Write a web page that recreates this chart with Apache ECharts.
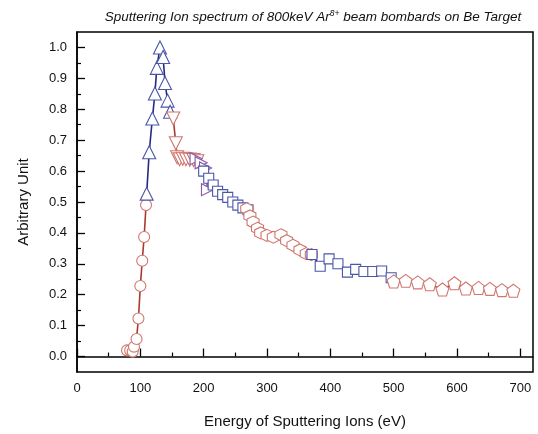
<!DOCTYPE html>
<html>
<head>
<meta charset="utf-8">
<script src="https://cdn.jsdelivr.net/npm/echarts@6/dist/echarts.min.js"></script>
<style>html,body{margin:0;padding:0;background:#fff;}#c{width:538px;height:434px;}</style>
</head>
<body>
<div id="c"></div>
<script>
// Data: [energy (eV), arbitrary unit]
var redCircles = [[79,0.02],[84,0.02],[88,0.016],[90,0.032],[94,0.057],[97,0.123],[100,0.228],[103,0.31],[106,0.387],[109,0.49]];
var blueTriangles = [[110,0.527],[114,0.661],[119,0.77],[123,0.851],[126,0.934],[131,1.0],[136,0.969],[139,0.885],[143,0.828],[147,0.792]];
var redDownTriangles = [[152,0.77],[156,0.69],[158,0.645],[162,0.638],[167,0.64],[172,0.638],[178,0.637],[184,0.636],[190,0.632]];
var purpleTriangles = [[188,0.64],[196,0.627],[203,0.61],[206,0.54]];
var blueSquares1 = [[200,0.60],[208,0.577],[215,0.555],[222,0.535],[230,0.524],[238,0.515],[246,0.50],[254,0.49],[262,0.481],[270,0.475]];
var redHexagons = [[268,0.478],[273,0.455],[278,0.435],[285,0.415],[290,0.40],[300,0.392],[310,0.386],[322,0.394],[331,0.375],[341,0.36],[352,0.345],[362,0.333],[370,0.33]];
var blueSquares2 = [[371,0.33],[384,0.292],[398,0.316],[412,0.30],[427,0.273],[440,0.282],[453,0.275],[467,0.275],[481,0.277],[496,0.255]];
var redPentagons = [[500,0.243],[519,0.245],[538,0.24],[557,0.234],[577,0.217],[596,0.237],[614,0.22],[634,0.222],[652,0.219],[671,0.215],[689,0.213]];

var xMajor = [0,100,200,300,400,500,600,700];
var xMinor = [50,150,250,350,450,550,650];
var yMajor = [0,0.1,0.2,0.3,0.4,0.5,0.6,0.7,0.8,0.9,1.0];
var yMinor = [0.05,0.15,0.25,0.35,0.45,0.55,0.65,0.75,0.85,0.95];

var PENT = 'path://M0,-10 L9.51,-3.09 L5.88,8.09 L-5.88,8.09 L-9.51,-3.09 Z';
var HEX = 'path://M0,-10 L8.66,-5 L8.66,5 L0,10 L-8.66,5 L-8.66,-5 Z';

var RED_LINE = '#a83a32', RED_MK = '#d0766e';
var BLUE_LINE = '#232a80', BLUE_MK = '#4a56a8';
var PURPLE = '#8a55a8';

function mk(data, symbol, size, lineColor, mkColor, rot) {
  return {
    type: 'line', data: data, symbol: symbol, symbolSize: size, symbolRotate: rot || 0,
    showAllSymbol: true, xAxisIndex: 0, yAxisIndex: 0,
    lineStyle: {color: lineColor, width: 1.6},
    itemStyle: {color: '#fff', borderColor: mkColor, borderWidth: 1.1},
    emphasis: {disabled: true}, animation: false
  };
}

var fontFam = 'Liberation Sans, Arial, sans-serif';
var chart = echarts.init(document.getElementById('c'));
chart.setOption({
  animation: false,
  title: {
    text: '{t|Sputtering Ion spectrum of 800keV Ar}{s|8+}{t| beam bombards on Be Target}',
    left: 308, top: 4, textAlign: 'center',
    textStyle: {
      fontWeight: 'normal',
      rich: {
        t: {fontSize: 13.5, fontStyle: 'italic', fontWeight: 'normal', fontFamily: fontFam, color: '#111'},
        s: {fontSize: 8.5, fontStyle: 'italic', fontWeight: 'normal', fontFamily: fontFam, color: '#111', verticalAlign: 'top', padding: [0,0,8,0]}
      }
    }
  },
  grid: {left: 77, right: 5, top: 32, bottom: 62, show: true, borderColor: '#000', borderWidth: 1.5, backgroundColor: 'transparent'},
  xAxis: [{
    type: 'value', min: 0, max: 720,
    name: 'Energy of Sputtering Ions (eV)', nameLocation: 'middle', nameGap: 42,
    nameTextStyle: {fontSize: 15, fontFamily: fontFam, color: '#111'},
    axisLine: {lineStyle: {color: '#000', width: 1.5}},
    axisTick: {inside: true, length: 8, customValues: xMajor, lineStyle: {color: '#000', width: 1.3}},
    axisLabel: {customValues: xMajor, margin: 10, fontSize: 13, fontFamily: fontFam, color: '#111'},
    splitLine: {show: false}
  }, {
    type: 'value', min: 0, max: 720, position: 'bottom',
    axisLine: {show: false},
    axisTick: {inside: true, length: 4, customValues: xMinor, lineStyle: {color: '#000', width: 1.2}},
    axisLabel: {show: false}, splitLine: {show: false}
  }],
  yAxis: [{
    type: 'value', min: -0.05, max: 1.05,
    name: 'Arbitrary Unit', nameLocation: 'middle', nameGap: 46,
    nameTextStyle: {fontSize: 15, fontFamily: fontFam, color: '#111'},
    axisLine: {lineStyle: {color: '#000', width: 1.5}},
    axisTick: {inside: true, length: 8, customValues: yMajor, lineStyle: {color: '#000', width: 1.3}},
    axisLabel: {customValues: yMajor, margin: 10, fontSize: 13, fontFamily: fontFam, color: '#111',
      formatter: function (v) { return v.toFixed(1); }},
    splitLine: {show: false}
  }, {
    type: 'value', min: -0.05, max: 1.05, position: 'left',
    axisLine: {show: false},
    axisTick: {inside: true, length: 4, customValues: yMinor, lineStyle: {color: '#000', width: 1.2}},
    axisLabel: {show: false}, splitLine: {show: false}
  }],
  series: [
    mk(redCircles, 'circle', 11, RED_LINE, RED_MK),
    mk(blueTriangles, 'triangle', 13, BLUE_LINE, BLUE_MK),
    mk(redDownTriangles, 'triangle', 13, RED_LINE, RED_MK, 180),
    mk(purpleTriangles, 'triangle', 12, PURPLE, PURPLE, -90),
    mk(blueSquares1, 'rect', 10, BLUE_LINE, BLUE_MK),
    mk(redHexagons, HEX, 12, RED_LINE, RED_MK),
    mk(blueSquares2, 'rect', 10, BLUE_LINE, BLUE_MK),
    mk(redPentagons, PENT, 13, RED_LINE, RED_MK)
  ]
});
</script>
</body>
</html>
